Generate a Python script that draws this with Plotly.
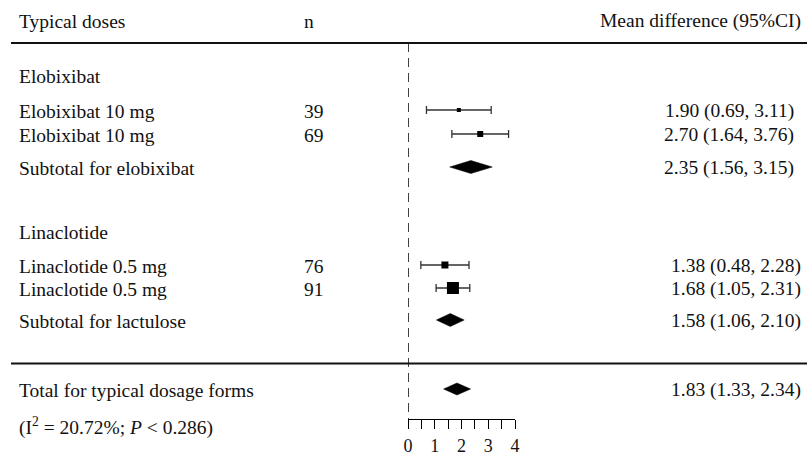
import plotly.graph_objects as go

# ---- data -------------------------------------------------------------
study_labels = ["Elobixibat 10 mg", "Elobixibat 10 mg",
                "Linaclotide 0.5 mg", "Linaclotide 0.5 mg"]
study_n = [39, 69, 76, 91]
study_md = [1.90, 2.70, 1.38, 1.68]
study_lo = [0.69, 1.64, 0.48, 1.05]
study_hi = [3.11, 3.76, 2.28, 2.31]

pooled_labels = ["Subtotal for elobixibat", "Subtotal for lactulose",
                 "Total for typical dosage forms"]
pooled_md = [2.35, 1.58, 1.83]
pooled_lo = [1.56, 1.06, 1.33]
pooled_hi = [3.15, 2.10, 2.34]

group_labels = ["Elobixibat", "Linaclotide"]
heterogeneity = "(I<sup>2</sup> = 20.72%; <i>P</i> &lt; 0.286)"

tick_vals = [0, 0.5, 1, 1.5, 2, 2.5, 3, 3.5, 4]
tick_text = ["0", " ", "1", " ", "2", " ", "3", " ", "4"]

# ---- layout (vertical positions in px from top) ------------------------
W, H = 809, 455
study_y = [110, 134, 265, 288]
pooled_y = [167, 320, 389]
group_y = [75, 231]
header_y = 20
het_y = 425
axis_y = 419
rule_y = [43, 363.5]
square_size = [4, 6, 7, 12]
diamond_half = [6.5, 6.5, 6]
value_right = [796, 796, 803, 803]
pooled_right = [796, 803, 803]
LEFT = 17
NCOL = 302
HEAD_RIGHT = 803
TEXT_DY = 1  # small nudge so the text sits on the row centre

FONT = "Liberation Serif"
FS = 19.5
INK = "#111111"

fig = go.Figure()

# confidence intervals (drawn first so the squares sit on top)
fig.add_trace(go.Scatter(
    x=study_md, y=study_y, mode="markers",
    marker=dict(size=1, color="rgba(0,0,0,0)"),
    error_x=dict(type="data", symmetric=False,
                 array=[h - m for h, m in zip(study_hi, study_md)],
                 arrayminus=[m - l for m, l in zip(study_md, study_lo)],
                 color="#333333", thickness=1.3, width=4),
    showlegend=False, hoverinfo="skip"))

# study point estimates
fig.add_trace(go.Scatter(
    x=study_md, y=study_y, mode="markers",
    marker=dict(symbol="square", size=square_size, color="black",
                opacity=1, line=dict(width=0)),
    showlegend=False, hoverinfo="skip"))

# pooled diamonds
for m, l, h, yc, dh in zip(pooled_md, pooled_lo, pooled_hi, pooled_y, diamond_half):
    fig.add_trace(go.Scatter(
        x=[l, m, h, m, l], y=[yc, yc - dh, yc, yc + dh, yc],
        mode="lines", fill="toself", fillcolor="black",
        line=dict(color="black", width=0.5),
        showlegend=False, hoverinfo="skip"))

# line of no effect
fig.add_shape(type="line", xref="x", yref="y", x0=0, x1=0,
              y0=rule_y[0], y1=axis_y,
              line=dict(color="black", width=1.5, dash="9px,6px"))

# horizontal rules
for ry in rule_y:
    fig.add_shape(type="line", xref="paper", yref="y", x0=11 / W, x1=807 / W,
                  y0=ry, y1=ry, line=dict(color=INK, width=1.8))

ann = []


def txt(x, y, s, anchor="left"):
    ann.append(dict(x=x / W, y=y + TEXT_DY, xref="paper", yref="y", text=s,
                    showarrow=False, xanchor=anchor, yanchor="middle",
                    font=dict(family=FONT, size=FS, color=INK)))


# header
txt(LEFT, header_y, "Typical doses")
txt(NCOL, header_y, "n")
txt(HEAD_RIGHT, header_y, "Mean difference (95%CI)", "right")

for g, gy in zip(group_labels, group_y):
    txt(LEFT, gy, g)

for lab, n, m, l, h, yy, xr in zip(study_labels, study_n, study_md, study_lo,
                                   study_hi, study_y, value_right):
    txt(LEFT, yy, lab)
    txt(NCOL, yy, str(n))
    txt(xr, yy, f"{m:.2f} ({l:.2f}, {h:.2f})", "right")

for lab, m, l, h, yy, xr in zip(pooled_labels, pooled_md, pooled_lo, pooled_hi,
                                pooled_y, pooled_right):
    txt(LEFT, yy, lab)
    txt(xr, yy, f"{m:.2f} ({l:.2f}, {h:.2f})", "right")

txt(LEFT, het_y, heterogeneity)

fig.update_layout(
    width=W, height=H,
    margin=dict(l=0, r=0, t=0, b=0, autoexpand=False),
    paper_bgcolor="white", plot_bgcolor="white",
    annotations=ann,
    xaxis=dict(domain=[408 / W, 515 / W], range=[0, 4],
               anchor="free", position=(H - axis_y) / H,
               automargin=False,
               showgrid=False, zeroline=False,
               showline=True, linecolor="black", linewidth=1.3,
               ticks="outside", ticklen=9, tickwidth=1.3, tickcolor="black",
               tickvals=tick_vals, ticktext=tick_text,
               ticklabelstandoff=1,
               tickfont=dict(family=FONT, size=18, color=INK)),
    yaxis=dict(domain=[0, 1], range=[H, 0], visible=False, automargin=False,
               showgrid=False, zeroline=False),
)

fig.write_html("out.html")
